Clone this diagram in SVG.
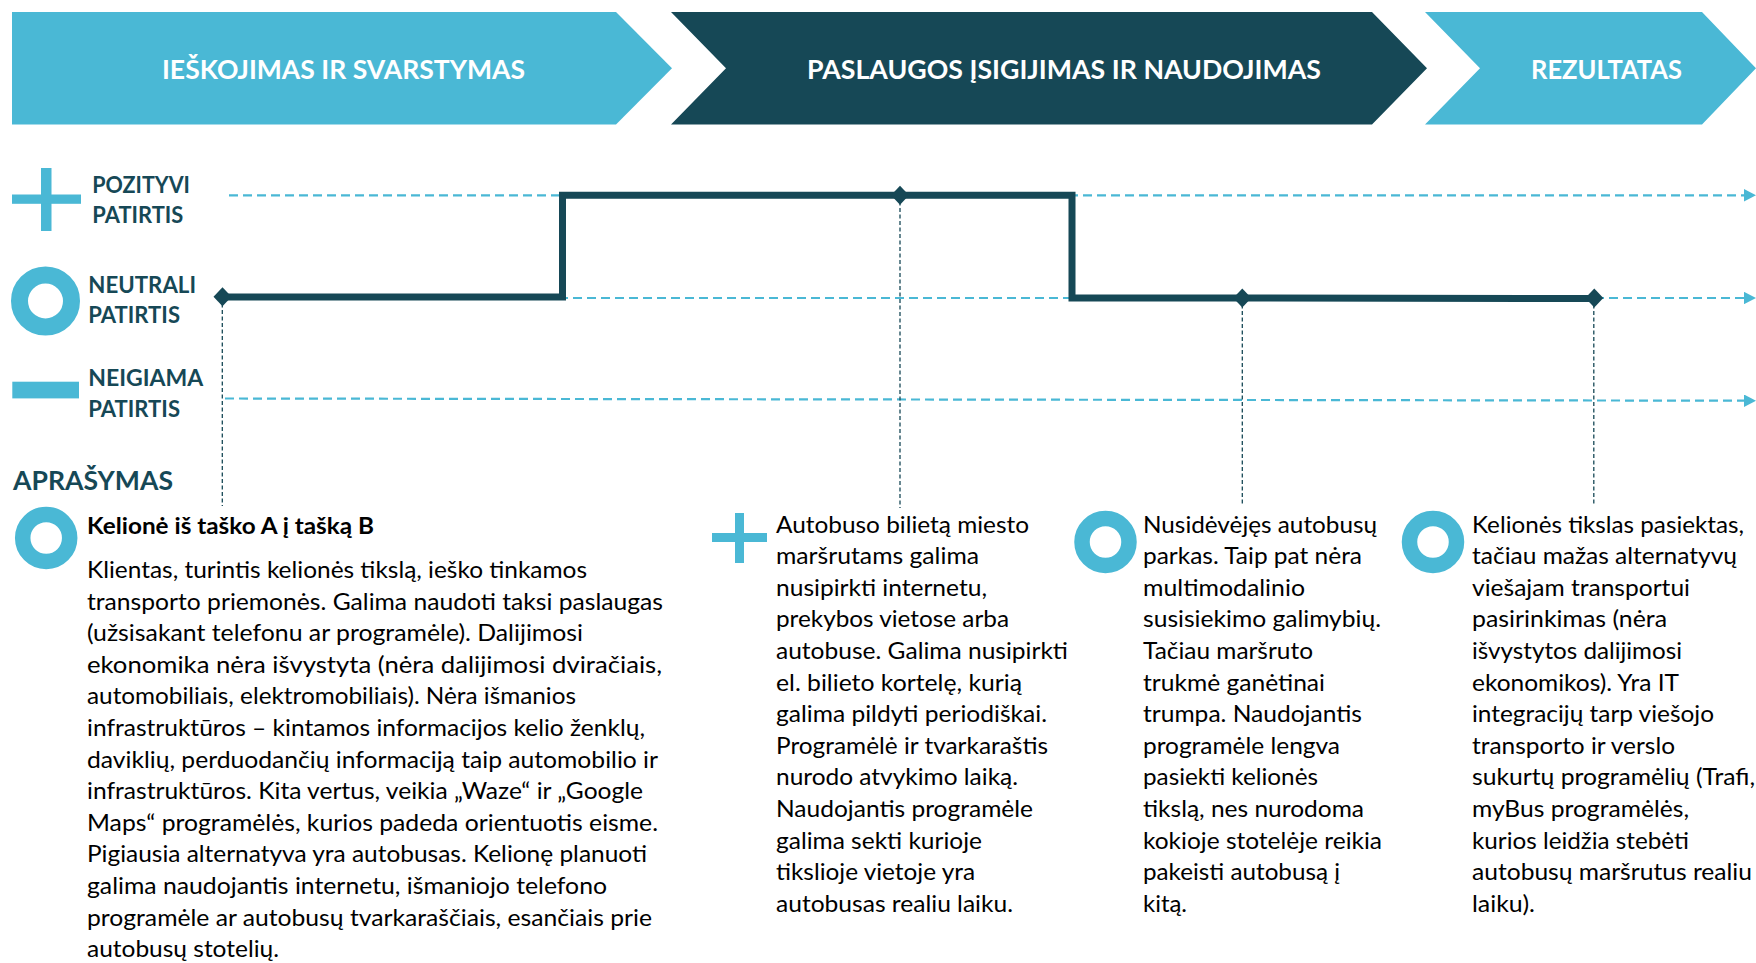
<svg xmlns="http://www.w3.org/2000/svg" width="1756" height="963" viewBox="0 0 1756 963">
<style>
.lb{fill:#4AB8D5}
.dk{fill:#164856}
.hd{font-family:Lato,"Liberation Sans",sans-serif;font-weight:700;font-size:26px;fill:#ffffff}
.lg{font-family:Lato,"Liberation Sans",sans-serif;font-weight:700;font-size:23px;fill:#164856}
.ap{font-family:Lato,"Liberation Sans",sans-serif;font-weight:700;font-size:27.5px;fill:#164856}
.tx{font-family:Lato,"Liberation Sans",sans-serif;font-size:23px;fill:#000000}
.tb{font-family:Lato,"Liberation Sans",sans-serif;font-weight:700;font-size:23px;fill:#000000}
.gd{fill:none;stroke:#4AB8D5;stroke-width:2.2;stroke-dasharray:9 5}
.vd{fill:none;stroke:#164856;stroke-width:1.3;stroke-dasharray:4 2.5}
.step{fill:none;stroke:#164856;stroke-width:7;stroke-linejoin:miter}
.ring{fill:none;stroke:#4AB8D5}
</style>
<defs>
<marker id="ah" markerUnits="userSpaceOnUse" markerWidth="12" markerHeight="12.4" refX="0" refY="6.2" orient="auto" viewBox="0 0 12 12.4">
<path d="M0,0 L12,6.2 L0,12.4 z" fill="#4AB8D5"/>
</marker>
<path id="dm" d="M0,-9.5 L9,0 L0,9.5 L-9,0 z" fill="#164856"/>
</defs>

<g id="stage-1">
<polygon class="lb" points="12,12 616,12 672,68.3 616,124.5 12,124.5"/>
<text class="hd" x="162" y="78.5" textLength="363" lengthAdjust="spacingAndGlyphs">IEŠKOJIMAS IR SVARSTYMAS</text>
</g>
<g id="stage-2">
<polygon class="dk" points="671,12 1372,12 1427,68.3 1372,124.5 671,124.5 726,68.3"/>
<text class="hd" x="807" y="78.5" textLength="514" lengthAdjust="spacingAndGlyphs">PASLAUGOS ĮSIGIJIMAS IR NAUDOJIMAS</text>
</g>
<g id="stage-3">
<polygon class="lb" points="1425,12 1702,12 1756,68.3 1702,124.5 1425,124.5 1480,68.3"/>
<text class="hd" x="1531" y="78.5" textLength="151" lengthAdjust="spacingAndGlyphs">REZULTATAS</text>
</g>

<g id="legend-positive">
<rect class="lb" x="41" y="168" width="10.5" height="63"/>
<rect class="lb" x="12" y="194.5" width="69" height="9.3"/>
<text class="lg" x="92.3" y="193.3" textLength="97.7" lengthAdjust="spacingAndGlyphs">POZITYVI</text>
<text class="lg" x="92.3" y="223.3" textLength="91" lengthAdjust="spacingAndGlyphs">PATIRTIS</text>
</g>
<g id="legend-neutral">
<circle class="ring" cx="45.5" cy="301" r="26" stroke-width="17"/>
<text class="lg" x="88.3" y="292.7" textLength="107.7" lengthAdjust="spacingAndGlyphs">NEUTRALI</text>
<text class="lg" x="88.3" y="323.3" textLength="91.7" lengthAdjust="spacingAndGlyphs">PATIRTIS</text>
</g>
<g id="legend-negative">
<rect class="lb" x="12.3" y="381.7" width="66.7" height="16.7"/>
<text class="lg" x="88.3" y="386" textLength="115" lengthAdjust="spacingAndGlyphs">NEIGIAMA</text>
<text class="lg" x="88.3" y="416.7" textLength="91.7" lengthAdjust="spacingAndGlyphs">PATIRTIS</text>
</g>

<g id="connectors">
<line class="gd" x1="229" y1="195.3" x2="1744" y2="195.3" marker-end="url(#ah)"/>
<line class="gd" x1="223" y1="298" x2="1744" y2="298" marker-end="url(#ah)"/>
<line class="gd" x1="225" y1="398.5" x2="1744" y2="400.7" marker-end="url(#ah)"/>
<line class="vd" x1="222.3" y1="297" x2="222.3" y2="506"/>
<line class="vd" x1="900" y1="195" x2="900" y2="508"/>
<line class="vd" x1="1242.3" y1="298" x2="1242.3" y2="506"/>
<line class="vd" x1="1593.8" y1="298" x2="1593.8" y2="506"/>
<path class="step" d="M222.5,297 H562.5 V195.3 H1072 V298 H1242 L1594,298.5"/>
<use href="#dm" x="222.5" y="296.8"/>
<use href="#dm" x="900" y="195.3"/>
<use href="#dm" x="1242.3" y="298"/>
<use href="#dm" x="1594.3" y="298"/>
</g>

<g id="heading">
<text class="ap" x="13" y="489.5" textLength="160" lengthAdjust="spacingAndGlyphs">APRAŠYMAS</text>
</g>

<g id="desc-1">
<circle class="ring" cx="46.2" cy="538" r="23.5" stroke-width="15.5"/>
<text class="tb" x="87" y="533.5" textLength="287" lengthAdjust="spacingAndGlyphs">Kelionė iš taško A į tašką B</text>
<text class="tx" x="87" y="578" textLength="500" lengthAdjust="spacingAndGlyphs">Klientas, turintis kelionės tikslą, ieško tinkamos</text>
<text class="tx" x="87" y="609.6" textLength="576" lengthAdjust="spacingAndGlyphs">transporto priemonės. Galima naudoti taksi paslaugas</text>
<text class="tx" x="87" y="641.2" textLength="496" lengthAdjust="spacingAndGlyphs">(užsisakant telefonu ar programėle). Dalijimosi</text>
<text class="tx" x="87" y="672.8" textLength="575" lengthAdjust="spacingAndGlyphs">ekonomika nėra išvystyta (nėra dalijimosi dviračiais,</text>
<text class="tx" x="87" y="704.4" textLength="489" lengthAdjust="spacingAndGlyphs">automobiliais, elektromobiliais). Nėra išmanios</text>
<text class="tx" x="87" y="736" textLength="558" lengthAdjust="spacingAndGlyphs">infrastruktūros – kintamos informacijos kelio ženklų,</text>
<text class="tx" x="87" y="767.6" textLength="571" lengthAdjust="spacingAndGlyphs">daviklių, perduodančių informaciją taip automobilio ir</text>
<text class="tx" x="87" y="799.2" textLength="556" lengthAdjust="spacingAndGlyphs">infrastruktūros. Kita vertus, veikia „Waze“ ir „Google</text>
<text class="tx" x="87" y="830.8" textLength="571" lengthAdjust="spacingAndGlyphs">Maps“ programėlės, kurios padeda orientuotis eisme.</text>
<text class="tx" x="87" y="862.4" textLength="560" lengthAdjust="spacingAndGlyphs">Pigiausia alternatyva yra autobusas. Kelionę planuoti</text>
<text class="tx" x="87" y="894" textLength="520" lengthAdjust="spacingAndGlyphs">galima naudojantis internetu, išmaniojo telefono</text>
<text class="tx" x="87" y="925.6" textLength="565" lengthAdjust="spacingAndGlyphs">programėle ar autobusų tvarkaraščiais, esančiais prie</text>
<text class="tx" x="87" y="957.2" textLength="192" lengthAdjust="spacingAndGlyphs">autobusų stotelių.</text>
</g>

<g id="desc-2">
<rect class="lb" x="735" y="513" width="9" height="50"/>
<rect class="lb" x="712" y="533" width="55" height="9"/>
<text class="tx" x="776" y="532.5" textLength="253" lengthAdjust="spacingAndGlyphs">Autobuso bilietą miesto</text>
<text class="tx" x="776" y="564.1" textLength="203" lengthAdjust="spacingAndGlyphs">maršrutams galima</text>
<text class="tx" x="776" y="595.7" textLength="211" lengthAdjust="spacingAndGlyphs">nusipirkti internetu,</text>
<text class="tx" x="776" y="627.3" textLength="233" lengthAdjust="spacingAndGlyphs">prekybos vietose arba</text>
<text class="tx" x="776" y="658.9" textLength="292" lengthAdjust="spacingAndGlyphs">autobuse. Galima nusipirkti</text>
<text class="tx" x="776" y="690.5" textLength="246" lengthAdjust="spacingAndGlyphs">el. bilieto kortelę, kurią</text>
<text class="tx" x="776" y="722.1" textLength="271" lengthAdjust="spacingAndGlyphs">galima pildyti periodiškai.</text>
<text class="tx" x="776" y="753.7" textLength="272" lengthAdjust="spacingAndGlyphs">Programėlė ir tvarkaraštis</text>
<text class="tx" x="776" y="785.3" textLength="242" lengthAdjust="spacingAndGlyphs">nurodo atvykimo laiką.</text>
<text class="tx" x="776" y="816.9" textLength="257" lengthAdjust="spacingAndGlyphs">Naudojantis programėle</text>
<text class="tx" x="776" y="848.5" textLength="206" lengthAdjust="spacingAndGlyphs">galima sekti kurioje</text>
<text class="tx" x="776" y="880.1" textLength="199" lengthAdjust="spacingAndGlyphs">tikslioje vietoje yra</text>
<text class="tx" x="776" y="911.7" textLength="237" lengthAdjust="spacingAndGlyphs">autobusas realiu laiku.</text>
</g>

<g id="desc-3">
<circle class="ring" cx="1105.5" cy="542" r="23.5" stroke-width="15.5"/>
<text class="tx" x="1143" y="532.5" textLength="234" lengthAdjust="spacingAndGlyphs">Nusidėvėjęs autobusų</text>
<text class="tx" x="1143" y="564.1" textLength="219" lengthAdjust="spacingAndGlyphs">parkas. Taip pat nėra</text>
<text class="tx" x="1143" y="595.7" textLength="162" lengthAdjust="spacingAndGlyphs">multimodalinio</text>
<text class="tx" x="1143" y="627.3" textLength="238" lengthAdjust="spacingAndGlyphs">susisiekimo galimybių.</text>
<text class="tx" x="1143" y="658.9" textLength="170" lengthAdjust="spacingAndGlyphs">Tačiau maršruto</text>
<text class="tx" x="1143" y="690.5" textLength="182" lengthAdjust="spacingAndGlyphs">trukmė ganėtinai</text>
<text class="tx" x="1143" y="722.1" textLength="219" lengthAdjust="spacingAndGlyphs">trumpa. Naudojantis</text>
<text class="tx" x="1143" y="753.7" textLength="197" lengthAdjust="spacingAndGlyphs">programėle lengva</text>
<text class="tx" x="1143" y="785.3" textLength="175" lengthAdjust="spacingAndGlyphs">pasiekti kelionės</text>
<text class="tx" x="1143" y="816.9" textLength="221" lengthAdjust="spacingAndGlyphs">tikslą, nes nurodoma</text>
<text class="tx" x="1143" y="848.5" textLength="239" lengthAdjust="spacingAndGlyphs">kokioje stotelėje reikia</text>
<text class="tx" x="1143" y="880.1" textLength="197" lengthAdjust="spacingAndGlyphs">pakeisti autobusą į</text>
<text class="tx" x="1143" y="911.7" textLength="44" lengthAdjust="spacingAndGlyphs">kitą.</text>
</g>

<g id="desc-4">
<circle class="ring" cx="1433" cy="542" r="23.5" stroke-width="15.5"/>
<text class="tx" x="1472" y="532.5" textLength="272" lengthAdjust="spacingAndGlyphs">Kelionės tikslas pasiektas,</text>
<text class="tx" x="1472" y="564.1" textLength="265" lengthAdjust="spacingAndGlyphs">tačiau mažas alternatyvų</text>
<text class="tx" x="1472" y="595.7" textLength="218" lengthAdjust="spacingAndGlyphs">viešajam transportui</text>
<text class="tx" x="1472" y="627.3" textLength="195" lengthAdjust="spacingAndGlyphs">pasirinkimas (nėra</text>
<text class="tx" x="1472" y="658.9" textLength="210" lengthAdjust="spacingAndGlyphs">išvystytos dalijimosi</text>
<text class="tx" x="1472" y="690.5" textLength="207" lengthAdjust="spacingAndGlyphs">ekonomikos). Yra IT</text>
<text class="tx" x="1472" y="722.1" textLength="242" lengthAdjust="spacingAndGlyphs">integracijų tarp viešojo</text>
<text class="tx" x="1472" y="753.7" textLength="203" lengthAdjust="spacingAndGlyphs">transporto ir verslo</text>
<text class="tx" x="1472" y="785.3" textLength="283" lengthAdjust="spacingAndGlyphs">sukurtų programėlių (Trafi,</text>
<text class="tx" x="1472" y="816.9" textLength="217" lengthAdjust="spacingAndGlyphs">myBus programėlės,</text>
<text class="tx" x="1472" y="848.5" textLength="217" lengthAdjust="spacingAndGlyphs">kurios leidžia stebėti</text>
<text class="tx" x="1472" y="880.1" textLength="280" lengthAdjust="spacingAndGlyphs">autobusų maršrutus realiu</text>
<text class="tx" x="1472" y="911.7" textLength="63" lengthAdjust="spacingAndGlyphs">laiku).</text>
</g>
</svg>
